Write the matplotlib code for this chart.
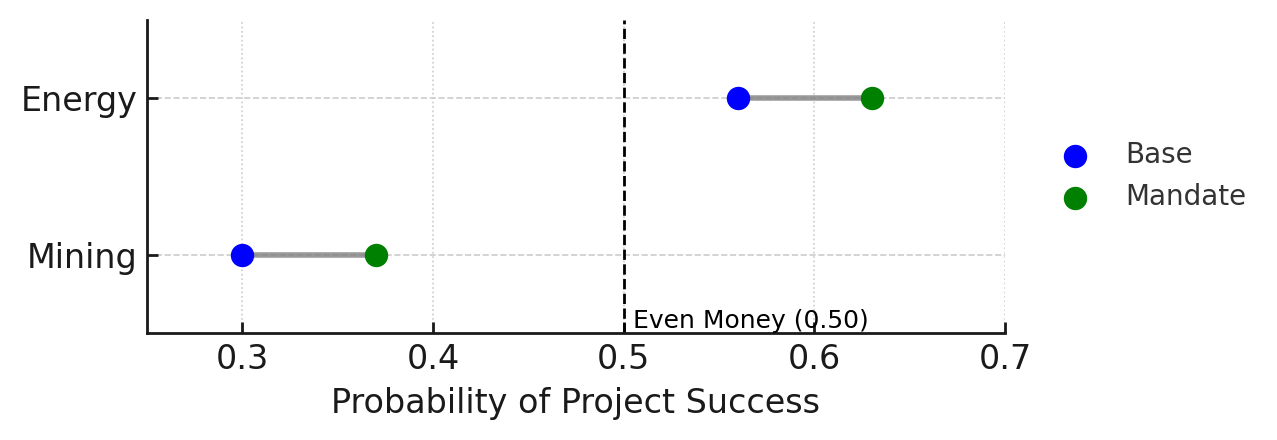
import numpy as np
import matplotlib.pyplot as plt

sectors = ["Mining", "Energy"]
base = [0.30, 0.56]
mandate = [0.37, 0.63]
even_money = 0.50

fig = plt.figure(figsize=(6.385, 2.2), dpi=200)
ax = fig.add_axes([0.115, 0.243, 0.672, 0.712])

y = np.arange(len(sectors))
for i in range(len(sectors)):
    ax.plot([base[i], mandate[i]], [y[i], y[i]], color="gray", lw=2, alpha=0.8, zorder=2)
ax.scatter(base, y, color="blue", s=55, label="Base", zorder=3)
ax.scatter(mandate, y, color="green", s=55, label="Mandate", zorder=3)

ax.axvline(even_money, color="black", ls="--", lw=1, zorder=1)
ax.text(even_money + 0.005, -0.5, "Even Money (0.50)", fontsize=9, va="bottom", ha="left")

ax.set_xlim(0.25, 0.7)
ax.set_ylim(-0.5, 1.5)
ax.set_yticks(y)
ax.set_yticklabels(sectors)
ax.set_xticks([0.3, 0.4, 0.5, 0.6, 0.7])
ax.tick_params(direction="in", labelsize=12, colors="#1a1a1a", length=4, width=1)
ax.set_xlabel("Probability of Project Success", fontsize=12, color="#1a1a1a")

ax.grid(axis="y", ls="--", color="#cccccc", lw=0.6)
ax.grid(axis="x", ls=":", color="#cccccc", lw=0.6)
ax.set_axisbelow(True)
for s in ["top", "right"]:
    ax.spines[s].set_visible(False)
for s in ["left", "bottom"]:
    ax.spines[s].set_color("#1a1a1a")
    ax.spines[s].set_linewidth(1)

leg = ax.legend(loc="center left", bbox_to_anchor=(1.02, 0.5), frameon=False, fontsize=10)
for t in leg.get_texts():
    t.set_color("#333333")

fig.savefig("out.png", dpi=200)
